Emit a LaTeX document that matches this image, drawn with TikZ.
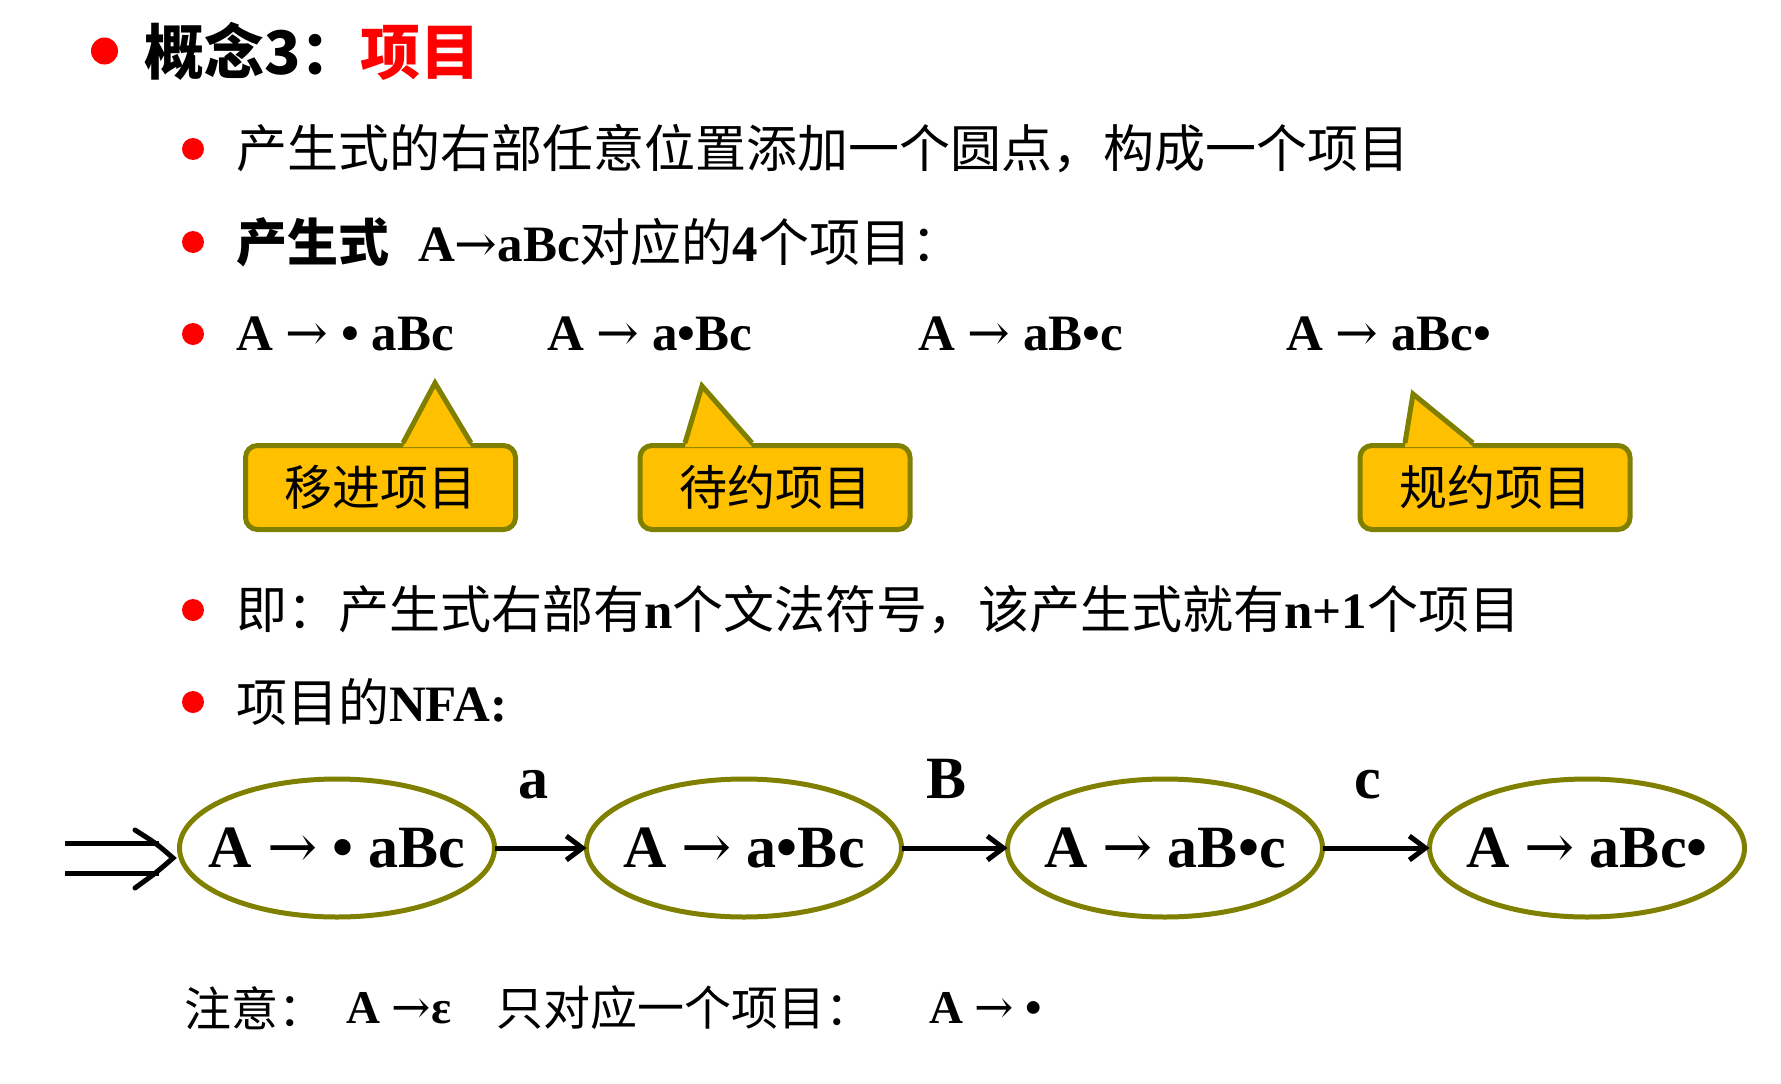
\documentclass[tikz,border=0pt]{standalone}
\usepackage{fontspec}
\setmainfont{Liberation Serif}
\newfontfamily\zh{Noto Sans CJK SC}
\newfontfamily\arfont{DejaVu Serif}
\usetikzlibrary{positioning,arrows.meta,calc,shapes.geometric}
\definecolor{bulletred}{HTML}{FF0000}
\definecolor{olivebd}{HTML}{808000}
\definecolor{calloutfill}{HTML}{FFC000}
\newcommand{\titlesize}{\fontsize{60pt}{70pt}\selectfont}
\newcommand{\bodysize}{\fontsize{51pt}{60pt}\selectfont}
\newcommand{\boxsize}{\fontsize{48pt}{56pt}\selectfont}
\newcommand{\nfasize}{\fontsize{60pt}{70pt}\selectfont}
\newcommand{\notesize}{\fontsize{47pt}{56pt}\selectfont}
\newcommand{\lat}[1]{{\rmfamily\bfseries #1}}
\newcommand{\ar}{{\arfont\mdseries →}}
\newcommand{\stxt}[1]{\makebox[0pt]{#1}}

\begin{document}
\begin{tikzpicture}[x=1pt, y=-1pt,
  every node/.style={inner sep=0pt, outer sep=0pt},
  dot/.style={circle, fill=bulletred, minimum size=22pt},
  textline/.style={anchor=west, font=\bodysize\zh},
  item/.style={anchor=west, font=\bodysize\bfseries},
  callbox/.style={draw=olivebd, fill=calloutfill, line width=5pt,
    rounded corners=12pt, minimum width=270pt, minimum height=84pt,
    font=\boxsize\zh},
  tipline/.style={draw=olivebd, line width=5pt, line join=miter},
  state/.style={ellipse, draw=olivebd, line width=5pt,
    minimum width=315pt, minimum height=138pt, font=\nfasize\bfseries},
  trans/.style={-{Straight Barb[length=16pt,width=24pt]}, line width=5pt},
  lab/.style={pos=0.42, anchor=base, yshift=50pt, font=\nfasize\bfseries},
  initarrow/.style={double, double distance=25pt, line width=5pt},
  inithead/.style={line width=5pt, line cap=round},
  notepart/.style={anchor=west, font=\notesize},
]
  \useasboundingbox (0,0) rectangle (1781,1084);

  % heading
  \node[dot, minimum size=27pt] (titledot) at (104.5,51) {};
  \node[anchor=west, font=\titlesize\zh\bfseries] (title) at (144,51)
    {概念3：\textcolor{bulletred}{项目}};

  % bullets
  \foreach \y/\n in {149/1, 242/2, 334/3, 610/4, 702/5}
    \node[dot] (dot\n) at (193,\y) {};

  \node[textline] (def) at (236,149) {产生式的右部任意位置添加一个圆点，构成一个项目};
  \node[textline] (prod) at (236,242)
    {{\bfseries 产生式}\hspace{29pt}\lat{A\ar aBc}对应的\lat{4}个项目：};

  % the four items
  \node[item] (item0) at (236,334)  {A \ar{} • aBc};
  \node[item] (item1) at (547,334)  {A \ar{} a•Bc};
  \node[item] (item2) at (918,334)  {A \ar{} aB•c};
  \node[item] (item3) at (1286,334) {A \ar{} aBc•};

  % callouts
  \node[callbox] (shift)  at (380.5,487.5) {移进项目};
  \node[callbox] (wait)   at (775,487.5)   {待约项目};
  \node[callbox] (reduce) at (1495,487.5)  {规约项目};
  \coordinate (shifttip)  at (435,383);
  \coordinate (waittip)   at (702,386);
  \coordinate (reducetip) at (1413,394);
  \fill[calloutfill] (403,447) -- (shifttip) -- (471,447) -- cycle;
  \draw[tipline] (403,443) -- (shifttip) -- (471,443);
  \fill[calloutfill] (685,447) -- (waittip) -- (752,447) -- cycle;
  \draw[tipline] (685,443) -- (waittip) -- (752,443);
  \fill[calloutfill] (1405,447) -- (reducetip) -- (1473,447) -- cycle;
  \draw[tipline] (1405,443) -- (reducetip) -- (1473,443);

  \node[textline] (count) at (236,610)
    {即：产生式右部有\lat{n}个文法符号，该产生式就有\lat{n+1}个项目};
  \node[textline] (nfahead) at (236,702) {项目的\lat{NFA:}};

  % NFA of the items
  \node[state] (s0) at (337,848)  {\stxt{A \ar{} • aBc}};
  \node[state] (s1) at (744,848)  {\stxt{A \ar{} a•Bc}};
  \node[state] (s2) at (1165,848) {\stxt{A \ar{} aB•c}};
  \node[state] (s3) at (1587,848) {\stxt{A \ar{} aBc•}};
  \coordinate (init) at (65,858);
  \coordinate (initend) at (173,858);
  \draw[initarrow] (init) -- ($(initend)+(-14,0)$);
  \draw[inithead] ($(initend)+(-38,-28)$) .. controls ($(initend)+(-16,-14)$) .. (initend)
    .. controls ($(initend)+(-16,14)$) .. ($(initend)+(-38,30)$);
  \draw[trans] (s0) -- node[lab] {a} (s1);
  \draw[trans] (s1) -- node[lab] {B} (s2);
  \draw[trans] (s2) -- node[lab] {c} (s3);

  % note
  \node[notepart] (note0) at (184,1008) {\zh 注意：};
  \node[notepart] (note1) at (346,1008) {\bfseries A \ar ε};
  \node[notepart] (note2) at (496,1008) {\zh 只对应一个项目：};
  \node[notepart] (note3) at (929,1008) {\bfseries A \ar{} •};
\end{tikzpicture}
\end{document}
